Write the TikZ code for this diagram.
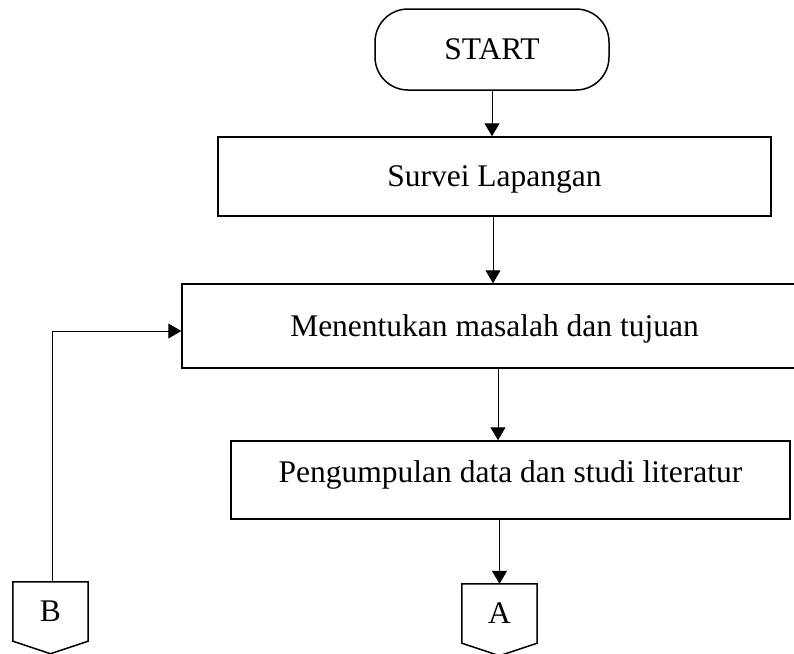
\documentclass[tikz,border=0pt]{standalone}
\usepackage{fontspec}
\setmainfont{Liberation Serif}
\usetikzlibrary{arrows.meta}
\begin{document}
\begin{tikzpicture}[x=1pt,y=-1pt,
  txt/.style={font=\fontsize{31.5}{36}\selectfont, text height=20.9pt, text depth=0pt, inner sep=0pt},
  box/.style={txt, draw, line width=1.5pt, rectangle},
  term/.style={txt, draw, line width=1.5pt, rectangle, rounded corners=33pt},
  conn/.style={txt, rectangle, minimum width=75pt, minimum height=59pt},
  offpage/.style={line width=1.5pt, line join=miter},
  arr/.style={line width=1pt, -{Triangle[width=15pt,length=13pt]}},
  plain/.style={line width=1pt}]
\useasboundingbox (0,0) rectangle (794,653);
\clip (0,0) rectangle (794,653);

\node[term, minimum width=234pt, minimum height=81pt] (start) at (492,49.5) {START};
\node[box, minimum width=553pt, minimum height=79pt] (survei) at (494.5,176.5) {Survei Lapangan};
\node[box, minimum width=625pt, minimum height=84pt] (men) at (494.5,326) {Menentukan masalah dan tujuan};
\node[box, minimum width=559pt, minimum height=78pt, text depth=16pt] (peng) at (510.5,480) {Pengumpulan data dan studi literatur};

\node[conn] (b) at (50.5,611.5) {B};
\node[conn] (a) at (499.5,613.5) {A};
\draw[offpage] (b.north west) -- (b.north east) -- (b.south east) -- ([yshift=-12.5pt]b.south) -- (b.south west) -- cycle;
\draw[offpage] (a.north west) -- (a.north east) -- (a.south east) -- ([yshift=-12.5pt]a.south) -- (a.south west) -- cycle;

\draw[arr] (start.south) -- (start.south |- survei.north);
\draw[arr] ([xshift=-1.5pt]survei.south) -- ([xshift=-1.5pt]survei.south |- men.north);
\draw[arr] ([xshift=3.5pt]men.south) -- ([xshift=3.5pt]men.south |- peng.north);
\draw[arr] (peng.south -| a.north) -- (a.north);
\draw[arr] ([xshift=1.5pt]b.north) |- ([yshift=-5pt]men.west);
\end{tikzpicture}
\end{document}
